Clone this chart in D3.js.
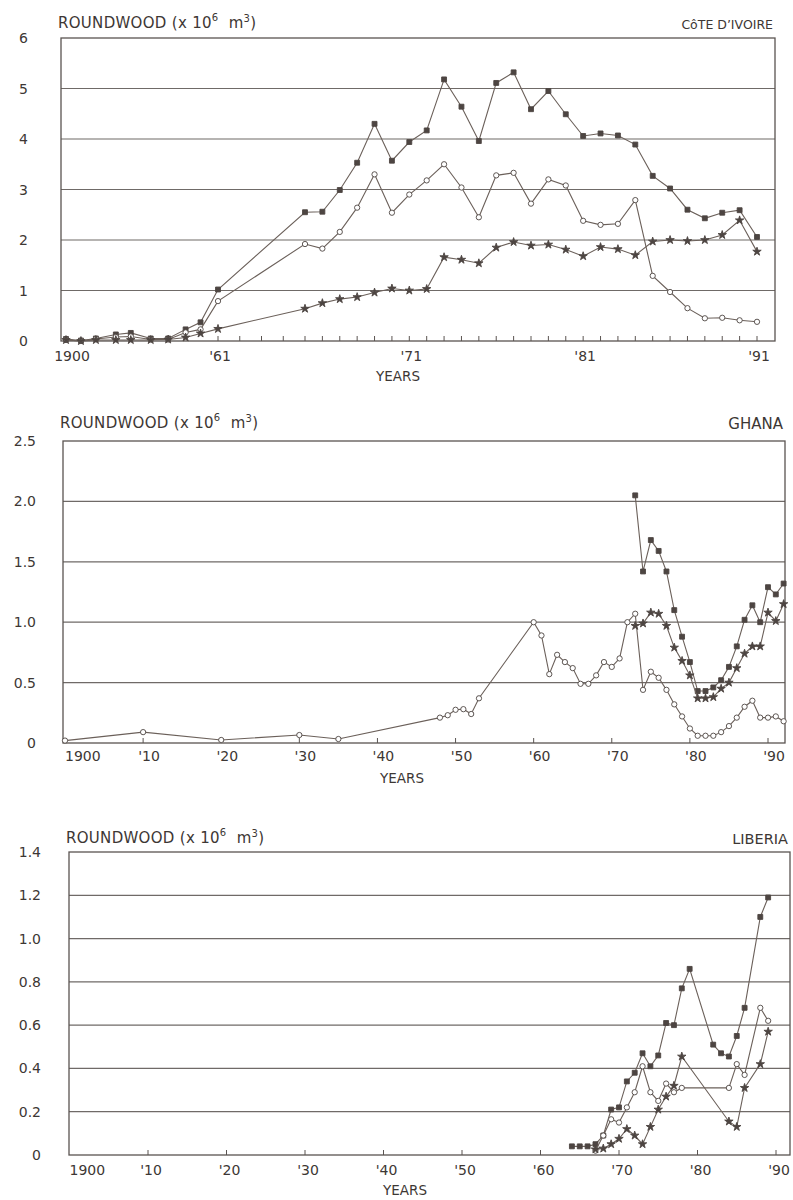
<!DOCTYPE html>
<html>
<head>
<meta charset="utf-8">
<script src="https://cdn.jsdelivr.net/npm/d3@7"></script>
<style>
  body { margin: 0; background: #fff; }
  text { font-family: 'DejaVu Sans', sans-serif; fill: #3d3734; }
</style>
</head>
<body>
<div id="chart"></div>
<script>
// Cote d'Ivoire: early years squeezed into a few slots, then yearly from 1965
const civYears = [1900, 1906, 1912, 1920, 1926, 1934, 1941, 1948, 1954, 1961,
  1965, 1966, 1967, 1968, 1969, 1970, 1971, 1972, 1973, 1974, 1975, 1976, 1977, 1978,
  1979, 1980, 1981, 1982, 1983, 1984, 1985, 1986, 1987, 1988, 1989, 1990, 1991];
const civSquares = [0.04, 0.01, 0.05, 0.13, 0.16, 0.05, 0.05, 0.23, 0.37, 1.02,
  2.55, 2.56, 2.99, 3.53, 4.30, 3.57, 3.94, 4.17, 5.18, 4.64, 3.96, 5.11, 5.32, 4.59,
  4.95, 4.49, 4.06, 4.11, 4.07, 3.89, 3.27, 3.02, 2.60, 2.43, 2.54, 2.59, 2.06];
const civCircles = [0.02, 0, 0.04, 0.08, 0.09, 0.03, 0.03, 0.17, 0.23, 0.79,
  1.92, 1.83, 2.16, 2.64, 3.30, 2.54, 2.90, 3.18, 3.50, 3.04, 2.45, 3.28, 3.33, 2.72,
  3.20, 3.08, 2.38, 2.30, 2.32, 2.79, 1.29, 0.97, 0.65, 0.45, 0.46, 0.41, 0.38];
const civStars = [0.02, 0, 0.02, 0.02, 0.02, 0.02, 0.03, 0.07, 0.15, 0.24,
  0.64, 0.75, 0.83, 0.87, 0.96, 1.04, 1.00, 1.03, 1.66, 1.61, 1.54, 1.85, 1.96, 1.89,
  1.91, 1.81, 1.68, 1.86, 1.82, 1.70, 1.97, 2.00, 1.98, 2.00, 2.10, 2.39, 1.77];
const civYTicks = [0, 1, 2, 3, 4, 5, 6];
const civYLabels = ['0', '1', '2', '3', '4', '5', '6'];
const civXTicks = [1900, 1961, 1971, 1981, 1991];
const civXLabels = ['1900', "'61", "'71", "'81", "'91"];

// Ghana
const ghaCircleYears = [1900, 1910, 1920, 1930, 1935, 1948, 1949, 1950, 1951, 1952, 1953,
  1960, 1961, 1962, 1963, 1964, 1965, 1966, 1967, 1968, 1969, 1970, 1971, 1972, 1973,
  1974, 1975, 1976, 1977, 1978, 1979, 1980, 1981, 1982, 1983, 1984, 1985, 1986, 1987,
  1988, 1989, 1990, 1991, 1992];
const ghaCircles = [0.02, 0.09, 0.025, 0.066, 0.033, 0.21, 0.23, 0.275, 0.28, 0.24, 0.37,
  1.0, 0.89, 0.57, 0.73, 0.67, 0.62, 0.49, 0.49, 0.56, 0.67, 0.63, 0.70, 1.0, 1.07,
  0.44, 0.59, 0.54, 0.44, 0.32, 0.22, 0.12, 0.06, 0.06, 0.06, 0.09, 0.14, 0.21, 0.30,
  0.35, 0.21, 0.21, 0.22, 0.18];
const ghaYears = [1973, 1974, 1975, 1976, 1977, 1978, 1979, 1980, 1981, 1982, 1983,
  1984, 1985, 1986, 1987, 1988, 1989, 1990, 1991, 1992];
const ghaSquares = [2.05, 1.42, 1.68, 1.59, 1.42, 1.10, 0.88, 0.67, 0.43, 0.43, 0.46,
  0.52, 0.63, 0.80, 1.02, 1.14, 1.0, 1.29, 1.23, 1.32];
const ghaStars = [0.97, 0.99, 1.08, 1.07, 0.97, 0.79, 0.68, 0.56, 0.37, 0.37, 0.38,
  0.45, 0.50, 0.62, 0.74, 0.80, 0.80, 1.08, 1.01, 1.15];
const ghaYTicks = [0, 0.5, 1, 1.5, 2, 2.5];
const ghaYLabels = ['0', '0.5', '1.0', '1.5', '2.0', '2.5'];

// Liberia
const libSquareYears = [1964, 1965, 1966, 1967, 1968, 1969, 1970, 1971, 1972, 1973, 1974,
  1975, 1976, 1977, 1978, 1979, 1982, 1983, 1984, 1985, 1986, 1988, 1989];
const libSquares = [0.04, 0.04, 0.04, 0.05, 0.09, 0.21, 0.22, 0.34, 0.38, 0.47, 0.41,
  0.46, 0.61, 0.60, 0.77, 0.86, 0.51, 0.47, 0.455, 0.55, 0.68, 1.10, 1.19];
const libYears = [1967, 1968, 1969, 1970, 1971, 1972, 1973, 1974, 1975, 1976, 1977, 1978,
  1984, 1985, 1986, 1988, 1989];
const libCircles = [0.02, 0.09, 0.165, 0.15, 0.22, 0.29, 0.41, 0.29, 0.25, 0.33, 0.29, 0.31,
  0.31, 0.42, 0.37, 0.68, 0.62];
const libStars = [0.026, 0.03, 0.05, 0.075, 0.12, 0.09, 0.05, 0.13, 0.21, 0.27, 0.32, 0.455,
  0.155, 0.13, 0.31, 0.42, 0.57];
const libYTicks = [0, 0.2, 0.4, 0.6, 0.8, 1.0, 1.2, 1.4];
const libYLabels = ['0', '0.2', '0.4', '0.6', '0.8', '1.0', '1.2', '1.4'];

// decade axis used by Ghana and Liberia
const decadeTicks = [1900, 1910, 1920, 1930, 1940, 1950, 1960, 1970, 1980, 1990];
const decadeLabels = ['1900', "'10", "'20", "'30", "'40", "'50", "'60", "'70", "'80", "'90"];

const lineColor = '#6b605a';
const markColor = '#4d4542';

let svg = d3.select('#chart')
  .append('svg')
  .attr('width', 793)
  .attr('height', 1200);

svg.append('rect').attr('width', 793).attr('height', 1200).attr('fill', '#fff');

function drawPanel(p) {
  const g = svg.append('g');
  const x = p.x;
  const y = d3.scaleLinear().domain([0, p.yMax]).range([p.bottom, p.top]);

  // horizontal grid
  g.selectAll('.grid')
    .data(p.yTicks.filter(v => v > 0 && v < p.yMax))
    .join('line')
    .attr('x1', p.left).attr('x2', p.right)
    .attr('y1', d => y(d)).attr('y2', d => y(d))
    .attr('stroke', '#6f6a67')
    .attr('stroke-width', 1.2);

  // frame
  g.append('rect')
    .attr('x', p.left).attr('y', p.top)
    .attr('width', p.right - p.left).attr('height', p.bottom - p.top)
    .attr('fill', 'none')
    .attr('stroke', '#5a5451')
    .attr('stroke-width', 1.3);

  // y labels
  g.selectAll('.ylab')
    .data(p.yTicks)
    .join('text')
    .attr('x', p.yLabelX)
    .attr('y', d => y(d))
    .attr('dy', '0.36em')
    .attr('text-anchor', 'end')
    .style('font-size', '14px')
    .text((d, i) => p.yLabels[i]);

  // small ticks on the year axis, pointing up
  g.selectAll('.tick')
    .data(p.minorTicks)
    .join('line')
    .attr('x1', d => x(d)).attr('x2', d => x(d))
    .attr('y1', p.bottom).attr('y2', p.bottom - 5)
    .attr('stroke', '#5a5451')
    .attr('stroke-width', 1);

  // year labels
  g.selectAll('.xlab')
    .data(p.xTicks)
    .join('text')
    .attr('x', (d, i) => i === 0 ? x(d) + p.firstDx : x(d) + p.labelDx)
    .attr('y', p.xLabelY)
    .attr('text-anchor', (d, i) => i === 0 ? p.firstAnchor : 'middle')
    .style('font-size', '14px')
    .text((d, i) => p.xLabels[i]);

  g.append('text')
    .attr('x', p.yearsX).attr('y', p.yearsY)
    .attr('text-anchor', 'middle')
    .style('font-size', '13.5px')
    .text('YEARS');

  // axis title with superscripts
  const t = g.append('text')
    .attr('x', p.left - 3).attr('y', p.titleY)
    .style('font-size', '15px')
    .style('letter-spacing', '0.3px');
  t.append('tspan').text('ROUNDWOOD (x 10');
  t.append('tspan').attr('dy', -7).style('font-size', '10px').text('6');
  t.append('tspan').attr('dy', 7).text('\u00a0\u00a0m');
  t.append('tspan').attr('dy', -6).style('font-size', '10px').text('3');
  t.append('tspan').attr('dy', 6).text(')');

  g.append('text')
    .attr('x', p.right - 2).attr('y', p.titleY + 1)
    .attr('text-anchor', 'end')
    .style('font-size', p.countrySize)
    .text(p.country);

  const line = d3.line()
    .x(d => x(d.yr))
    .y(d => y(d.v));

  p.series.forEach(s => {
    const pts = s.years.map((yr, i) => ({ yr: yr, v: s.values[i] }));
    g.append('path')
      .datum(pts)
      .attr('d', line)
      .attr('fill', 'none')
      .attr('stroke', lineColor)
      .attr('stroke-width', 1.1);
    g.selectAll(null)
      .data(pts)
      .join('path')
      .attr('transform', d => `translate(${x(d.yr)},${y(d.v)})`)
      .attr('d', d3.symbol(s.symbol, s.size)())
      .attr('fill', s.fill)
      .attr('stroke', markColor)
      .attr('stroke-width', 0.9);
  });
}

const sq = { symbol: d3.symbolSquare, size: 24, fill: markColor };
const ci = { symbol: d3.symbolCircle, size: 22, fill: '#fff' };
const st = { symbol: d3.symbolStar, size: 22, fill: markColor };

drawPanel({
  left: 61, right: 775, top: 38, bottom: 341,
  x: d3.scaleLinear().domain([1900, 1961, 1965, 1991]).range([66, 218, 305, 757]),
  yMax: 6, yTicks: civYTicks, yLabels: civYLabels, yLabelX: 28,
  xTicks: civXTicks, xLabels: civXLabels, minorTicks: d3.range(1961, 1992),
  xLabelY: 361, labelDx: 2, firstDx: 6, firstAnchor: 'middle',
  yearsX: 398, yearsY: 381, titleY: 28,
  country: 'C\u00f4TE D\u2019IVOIRE', countrySize: '12.5px',
  series: [
    Object.assign({ years: civYears, values: civSquares }, sq),
    Object.assign({ years: civYears, values: civCircles }, ci),
    Object.assign({ years: civYears, values: civStars }, st)
  ]
});

drawPanel({
  left: 63, right: 785, top: 441, bottom: 743,
  x: d3.scaleLinear().domain([1900, 1990]).range([65, 768]),
  yMax: 2.5, yTicks: ghaYTicks, yLabels: ghaYLabels, yLabelX: 36,
  xTicks: decadeTicks, xLabels: decadeLabels, minorTicks: decadeTicks.slice(1),
  xLabelY: 761, labelDx: 6, firstDx: 0, firstAnchor: 'start',
  yearsX: 402, yearsY: 783, titleY: 428,
  country: 'GHANA', countrySize: '15px',
  series: [
    Object.assign({ years: ghaCircleYears, values: ghaCircles }, ci),
    Object.assign({ years: ghaYears, values: ghaSquares }, sq),
    Object.assign({ years: ghaYears, values: ghaStars }, st)
  ]
});

drawPanel({
  left: 69, right: 790, top: 852, bottom: 1155,
  x: d3.scaleLinear().domain([1900, 1990]).range([69.5, 776]),
  yMax: 1.4, yTicks: libYTicks, yLabels: libYLabels, yLabelX: 41,
  xTicks: decadeTicks, xLabels: decadeLabels, minorTicks: decadeTicks.slice(1),
  xLabelY: 1175, labelDx: 3, firstDx: 0, firstAnchor: 'start',
  yearsX: 405, yearsY: 1195, titleY: 843,
  country: 'LIBERIA', countrySize: '14.5px',
  series: [
    Object.assign({ years: libSquareYears, values: libSquares }, sq),
    Object.assign({ years: libYears, values: libCircles }, ci),
    Object.assign({ years: libYears, values: libStars }, st)
  ]
});
</script>
</body>
</html>
